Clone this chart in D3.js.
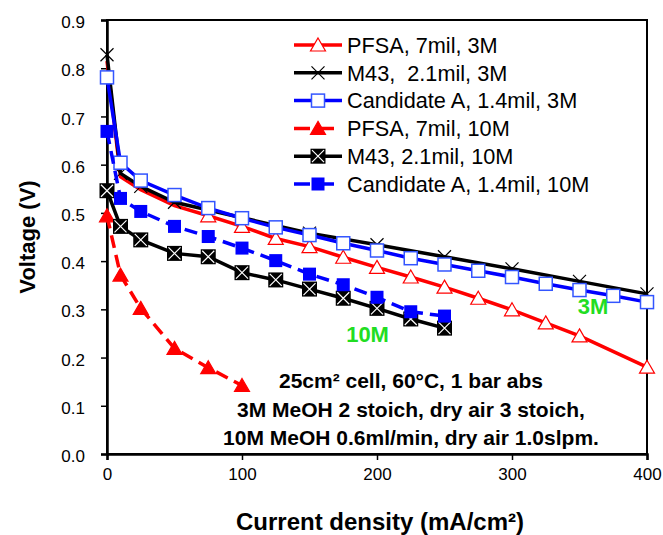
<!DOCTYPE html>
<html>
<head>
<meta charset="utf-8">
<script src="https://cdn.jsdelivr.net/npm/d3@7"></script>
<style>
body { margin: 0; background: #fff; }
#chart { font-family: Arial, "Liberation Sans", sans-serif; }
</style>
</head>
<body>
<div id="chart"></div>
<script>
var xTicks = [0, 100, 200, 300, 400];
var yTicks = [0, 0.1, 0.2, 0.3, 0.4, 0.5, 0.6, 0.7, 0.8, 0.9];

// 3M MeOH
var pfsa3mCurrent = [0, 10, 25, 50, 75, 100, 125, 150, 175, 200, 225, 250, 275, 300, 325, 350, 400];
var pfsa3mVoltage = [0.815, 0.575, 0.548, 0.515, 0.494, 0.472, 0.447, 0.430, 0.408, 0.387, 0.367, 0.346, 0.323, 0.299, 0.272, 0.245, 0.180];

var m43_3mCurrent = [0, 10, 25, 50, 150, 200, 250, 300, 350, 400];
var m43_3mVoltage = [0.828, 0.582, 0.555, 0.522, 0.458, 0.434, 0.409, 0.384, 0.358, 0.332];

var candA3mCurrent = [0, 10, 25, 50, 75, 100, 125, 150, 175, 200, 225, 250, 275, 300, 325, 350, 375, 400];
var candA3mVoltage = [0.781, 0.604, 0.567, 0.537, 0.510, 0.489, 0.470, 0.454, 0.437, 0.422, 0.406, 0.393, 0.380, 0.367, 0.353, 0.340, 0.328, 0.315];

// 10M MeOH
var pfsa10mCurrent = [0, 10, 25, 50, 75, 100];
var pfsa10mVoltage = [0.494, 0.371, 0.302, 0.219, 0.179, 0.142];

var m43_10mCurrent = [0, 10, 25, 50, 75, 100, 125, 150, 175, 200, 225, 250];
var m43_10mVoltage = [0.546, 0.472, 0.444, 0.416, 0.409, 0.376, 0.361, 0.342, 0.323, 0.302, 0.280, 0.261];

var candA10mCurrent = [0, 10, 25, 50, 75, 100, 125, 150, 175, 200, 225, 250];
var candA10mVoltage = [0.669, 0.530, 0.503, 0.472, 0.451, 0.427, 0.401, 0.373, 0.351, 0.325, 0.295, 0.286];

var legendLabels = ['PFSA, 7mil, 3M', 'M43,  2.1mil, 3M', 'Candidate A, 1.4mil, 3M',
                    'PFSA, 7mil, 10M', 'M43, 2.1mil, 10M', 'Candidate A, 1.4mil, 10M'];

var noteLines = ['25cm\u00b2 cell, 60\u00b0C, 1 bar abs',
                 '3M MeOH 2 stoich, dry air 3 stoich,',
                 '10M MeOH 0.6ml/min, dry air 1.0slpm.'];

function zip(xs, ys) {
    return xs.map(function(x, i) { return {x: x, y: ys[i]}; });
}

var series = [
    {data: zip(pfsa3mCurrent, pfsa3mVoltage), color: '#ff0000', dash: null, marker: 'triOpen', markFrom: 75},
    {data: zip(m43_3mCurrent, m43_3mVoltage), color: '#000000', dash: null, marker: 'cross', markFrom: 0},
    {data: zip(candA3mCurrent, candA3mVoltage), color: '#0000ff', dash: null, marker: 'sqOpen', markFrom: 0},
    {data: zip(pfsa10mCurrent, pfsa10mVoltage), color: '#ff0000', dash: '13,7', marker: 'triFill', markFrom: 0},
    {data: zip(m43_10mCurrent, m43_10mVoltage), color: '#000000', dash: null, marker: 'sqCross', markFrom: 0},
    {data: zip(candA10mCurrent, candA10mVoltage), color: '#0000ff', dash: '13,7', marker: 'sqFill', markFrom: 0}
];

var margin = {left: 107, right: 16, top: 20, bottom: 81},
    width = 663 - margin.left - margin.right,
    height = 535 - margin.top - margin.bottom;

var SVG = d3.select('#chart')
    .append('svg')
    .attr('width', 663)
    .attr('height', 535);

var svg = SVG.append('g')
    .attr('transform', `translate(${margin.left},${margin.top})`);

var xScale = d3.scaleLinear().domain([0, 400]).range([0, width]);
var yScale = d3.scaleLinear().domain([0, 0.9]).range([height, 0]);

// frame
svg.append('rect')
    .attr('x', 0).attr('y', 0)
    .attr('width', width).attr('height', height)
    .attr('fill', 'none')
    .attr('stroke', '#000')
    .attr('stroke-width', 2);

var xAxis = d3.axisBottom(xScale).tickValues(xTicks).tickSize(6).tickFormat(d3.format('d'));
var yAxis = d3.axisLeft(yScale).tickValues(yTicks).tickSize(6).tickFormat(d3.format('.1f'));

var gx = svg.append('g')
    .attr('transform', `translate(0,${height})`)
    .call(xAxis);
var gy = svg.append('g').call(yAxis);

[gx, gy].forEach(function(g) {
    g.select('.domain').attr('stroke-width', 2.5);
    g.selectAll('.tick line').attr('stroke-width', 1.5);
    g.selectAll('.tick text')
        .style('font-family', 'Arial, "Liberation Sans", sans-serif')
        .style('font-size', '17px')
        .attr('fill', '#000');
});
gx.selectAll('.tick text').attr('dy', '1.05em').attr('y', 8);
gy.selectAll('.tick text').attr('x', -22).attr('dy', '0.45em');

function drawMarker(g, type, color) {
    if (type === 'triOpen' || type === 'triFill') {
        g.append('path')
            .attr('d', 'M0,-7L7.5,6L-7.5,6Z')
            .attr('fill', type === 'triOpen' ? '#fff' : color)
            .attr('stroke', color)
            .attr('stroke-width', 1.2);
    } else if (type === 'cross') {
        g.append('path')
            .attr('d', 'M-6.5,-6.5L6.5,6.5M-6.5,6.5L6.5,-6.5')
            .attr('stroke', '#000')
            .attr('stroke-width', 1.2);
    } else if (type === 'sqOpen') {
        g.append('rect')
            .attr('x', -6.5).attr('y', -6.5).attr('width', 13).attr('height', 13)
            .attr('fill', '#fff')
            .attr('stroke', '#3355ff')
            .attr('stroke-width', 1.5);
    } else if (type === 'sqFill') {
        g.append('rect')
            .attr('x', -6.5).attr('y', -6.5).attr('width', 13).attr('height', 13)
            .attr('fill', color);
    } else if (type === 'sqCross') {
        g.append('rect')
            .attr('x', -7.5).attr('y', -7.5).attr('width', 15).attr('height', 15)
            .attr('fill', '#000');
        g.append('path')
            .attr('d', 'M-6,-6L6,6M-6,6L6,-6')
            .attr('stroke', '#fff')
            .attr('stroke-width', 1.2);
    }
}

var line = d3.line()
    .x(function(d) { return xScale(d.x); })
    .y(function(d) { return yScale(d.y); });

series.forEach(function(s) {
    var g = svg.append('g');
    g.append('path')
        .datum(s.data)
        .attr('d', line)
        .attr('fill', 'none')
        .attr('stroke', s.color)
        .attr('stroke-width', 3.5)
        .attr('stroke-dasharray', s.dash);

    g.selectAll('.mk')
        .data(s.data.filter(function(d) { return d.x >= s.markFrom; }))
        .enter().append('g')
        .attr('class', 'mk')
        .attr('transform', function(d) { return `translate(${xScale(d.x)},${yScale(d.y)})`; })
        .each(function() { drawMarker(d3.select(this), s.marker, s.color); });
});

// legend
var legend = svg.selectAll('.legend')
    .data(series)
    .enter().append('g')
    .attr('class', 'legend')
    .attr('transform', function(d, i) { return `translate(187, ${25 + i * 27.8})`; });

legend.append('line')
    .attr('x1', 0).attr('x2', 48)
    .attr('y1', 0).attr('y2', 0)
    .attr('stroke', function(d) { return d.color; })
    .attr('stroke-width', 3.5)
    .attr('stroke-dasharray', function(d) { return d.dash ? '16,8' : null; });

legend.append('g')
    .attr('transform', 'translate(24,0)')
    .each(function(d) { drawMarker(d3.select(this), d.marker, d.color); });

legend.append('text')
    .attr('x', 53)
    .attr('y', 0)
    .attr('dy', '0.36em')
    .style('font-size', '21.7px')
    .style('white-space', 'pre')
    .text(function(d, i) { return legendLabels[i]; });

// notes
svg.selectAll('.note')
    .data(noteLines)
    .enter().append('text')
    .attr('class', 'note')
    .attr('x', 304)
    .attr('y', function(d, i) { return 368 + i * 28.5; })
    .attr('text-anchor', 'middle')
    .style('font-size', '21px')
    .style('font-weight', 'bold')
    .text(function(d) { return d; });

svg.append('text')
    .attr('x', xScale(193))
    .attr('y', yScale(0.232))
    .attr('text-anchor', 'middle')
    .style('font-size', '22px')
    .style('font-weight', 'bold')
    .attr('fill', '#22dd22')
    .text('10M');

svg.append('text')
    .attr('x', xScale(360))
    .attr('y', yScale(0.29))
    .attr('text-anchor', 'middle')
    .style('font-size', '22px')
    .style('font-weight', 'bold')
    .attr('fill', '#22dd22')
    .text('3M');

// axis titles
svg.append('text')
    .attr('x', width / 2 + 3)
    .attr('y', height + 76)
    .attr('text-anchor', 'middle')
    .style('font-size', '24px')
    .style('font-weight', 'bold')
    .text('Current density (mA/cm\u00b2)');

svg.append('text')
    .attr('transform', 'rotate(-90)')
    .attr('x', 0 - (height / 2))
    .attr('y', -72)
    .attr('text-anchor', 'middle')
    .style('font-size', '22px')
    .style('font-weight', 'bold')
    .text('Voltage (V)');
</script>
</body>
</html>
